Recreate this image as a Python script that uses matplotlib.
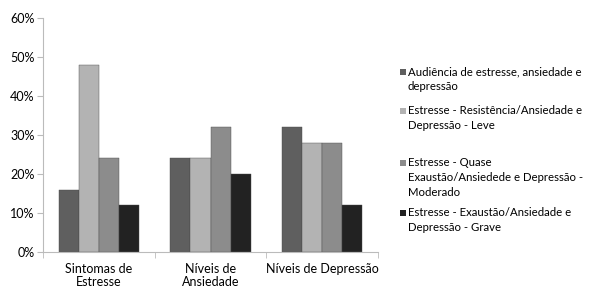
import numpy as np
import matplotlib
matplotlib.use('Agg')
import matplotlib.pyplot as plt
from matplotlib.patches import Rectangle

plt.rcParams['font.family'] = ['Lato', 'DejaVu Sans']

### Data ###
categories = ['Sintomas de\nEstresse', 'Níveis de\nAnsiedade', 'Níveis de Depressão']
series_names = ['Audiência de estresse, ansiedade e\ndepressão',
                'Estresse - Resistência/Ansiedade e\nDepressão - Leve',
                'Estresse - Quase\nExaustão/Ansiedede e Depressão -\nModerado',
                'Estresse - Exaustão/Ansiedade e\nDepressão - Grave']
values = [[16, 24, 32],
          [48, 24, 28],
          [24, 32, 28],
          [12, 20, 12]]
colors = ['#5f5f5f', '#b3b3b3', '#8c8c8c', '#222222']
yticks = [0, 10, 20, 30, 40, 50, 60]

### Plot ###
W, H = 595, 288
fig = plt.figure(figsize=(W/100, H/100), dpi=100)
ax = fig.add_axes([43/W, 1-252/H, (378-43)/W, (252-18)/H])

x = np.arange(len(categories))
w = 0.18
for i, (name, vals) in enumerate(zip(series_names, values)):
    ax.bar(x + (i - 1.5) * w, vals, w, color=colors[i], label=name,
           edgecolor='#4a4a4a', linewidth=0.3)

ax.set_xlim(-0.5, len(categories) - 0.5)
ax.set_ylim(0, 60)
ax.set_yticks(yticks)
ax.set_yticklabels([f'{t}%' for t in yticks], fontsize=9)
ax.set_xticks(x)
ax.set_xticklabels(categories, fontsize=9, linespacing=1.05)
ax.tick_params(axis='x', length=0, pad=8)
ax.set_xticks(np.arange(len(categories) + 1) - 0.5, minor=True)
ax.tick_params(axis='x', which='minor', length=4, color='#bbbbbb', direction='out')
ax.tick_params(axis='y', length=4, color='#bbbbbb', direction='out', pad=2)
for s in ['top', 'right']:
    ax.spines[s].set_visible(False)
for s in ['left', 'bottom']:
    ax.spines[s].set_color('#bbbbbb')
    ax.spines[s].set_linewidth(0.8)

### Legend (Excel style: marker aligned with first line) ###
first_line_y = [72, 111, 163, 213]
for name, col, yy in zip(series_names, colors, first_line_y):
    fig.patches.append(Rectangle((400/W, 1-(yy+3)/H), 6/W, 6/H, transform=fig.transFigure,
                                 facecolor=col, edgecolor='none'))
    fig.text(408/W, 1-(yy-6)/H, name, fontsize=8.2, va='top', ha='left',
             linespacing=1.45, transform=fig.transFigure)

fig.savefig('out.png', dpi=100)
